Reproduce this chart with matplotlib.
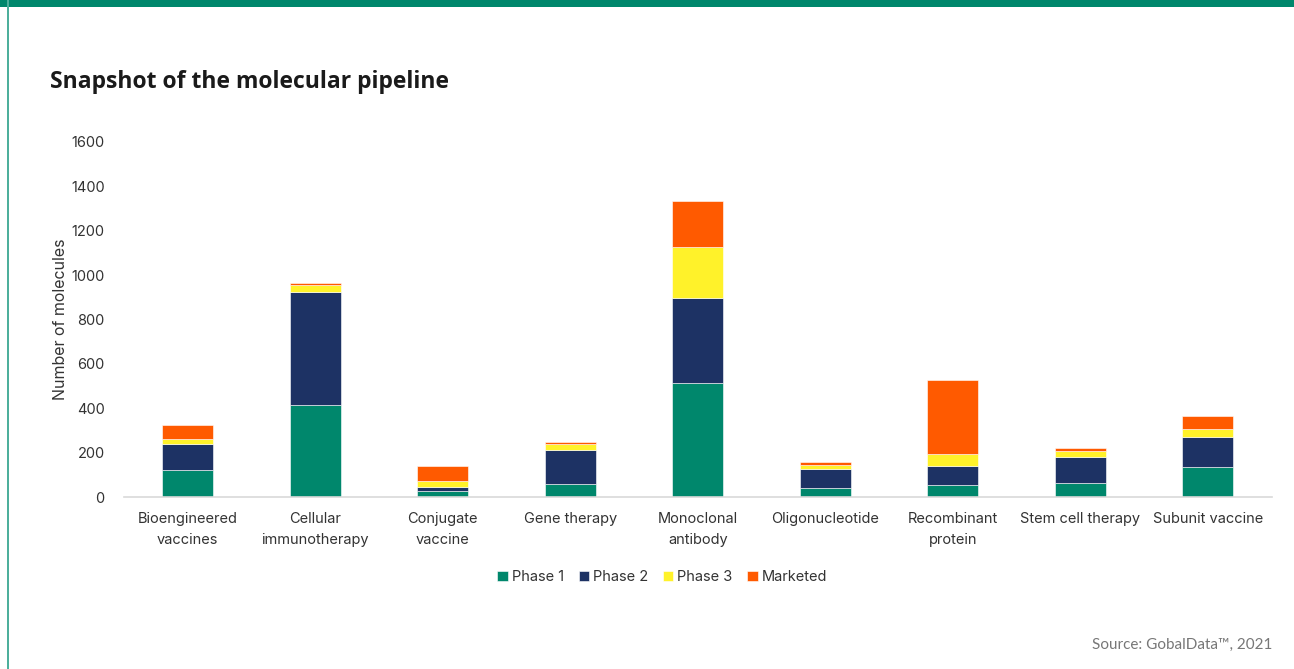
import matplotlib.pyplot as plt
import numpy as np

categories = ['Bioengineered\nvaccines', 'Cellular\nimmunotherapy', 'Conjugate\nvaccine',
              'Gene therapy', 'Monoclonal\nantibody', 'Oligonucleotide',
              'Recombinant\nprotein', 'Stem cell therapy', 'Subunit vaccine']
phase1 = [122, 416, 26, 57, 515, 42, 55, 62, 135]
phase2 = [117, 506, 19, 156, 380, 83, 84, 117, 137]
phase3 = [21, 35, 26, 28, 233, 19, 57, 30, 35]
marketed = [63, 9, 68, 8, 206, 15, 333, 14, 57]

series = [('Phase 1', phase1, '#00876C'),
          ('Phase 2', phase2, '#1D3264'),
          ('Phase 3', phase3, '#FFF22A'),
          ('Marketed', marketed, '#FF5A00')]

plt.rcParams['font.family'] = ['Inter', 'DejaVu Sans']

fig = plt.figure(figsize=(12.94, 6.69), dpi=100)
ax = fig.add_axes([0.0958, 0.257, 0.887, 0.531])

x = np.arange(len(categories))
bottom = np.zeros(len(categories))
for name, vals, col in series:
    ax.bar(x, vals, 0.4, bottom=bottom, color=col, label=name,
           edgecolor='white', linewidth=0.4)
    bottom += np.array(vals)

ax.set_xlim(-0.5, len(categories) - 0.5)
ax.set_ylim(0, 1600)
ax.set_yticks(range(0, 1601, 200))
ax.set_xticks(x)
ax.set_xticklabels(categories, fontsize=10.5, color='#333333', linespacing=1.6)
ax.tick_params(axis='y', labelsize=10.5, labelcolor='#333333', length=0, pad=14)
ax.tick_params(axis='x', length=0, pad=11)
for s in ['top', 'right', 'left']:
    ax.spines[s].set_visible(False)
ax.spines['bottom'].set_color('#D9D9D9')
ax.spines['bottom'].set_linewidth(1.2)
ax.set_ylabel('Number of molecules', fontsize=11.5, color='#333333', labelpad=2)

ax.legend(loc='center', bbox_to_anchor=(0.469, -0.225), ncol=4, frameon=False,
          fontsize=10.5, handlelength=0.7, handleheight=0.7, handletextpad=0.3,
          columnspacing=1.0, labelcolor='#333333')

fig.text(50 / 1294, 1 - 82 / 669, 'Snapshot of the molecular pipeline',
         fontsize=16.5, fontweight='bold', color='#1a1a1a', va='center',
         family=['Open Sans', 'DejaVu Sans'])
fig.text(1272 / 1294, 1 - 645 / 669, 'Source: GobalData\u2122, 2021',
         fontsize=11, color='#777777', ha='right', va='center', family=['Lato', 'DejaVu Sans'])

# frame decoration: green top band and left rule
fig.add_artist(plt.Rectangle((0, 1 - 7 / 669), 1, 7 / 669, transform=fig.transFigure,
                             color='#00876C', lw=0))
fig.add_artist(plt.Rectangle((7 / 1294, 0), 1.5 / 1294, 1, transform=fig.transFigure,
                             color='#4DAF9C', lw=0))

fig.savefig('out.png', dpi=100)
